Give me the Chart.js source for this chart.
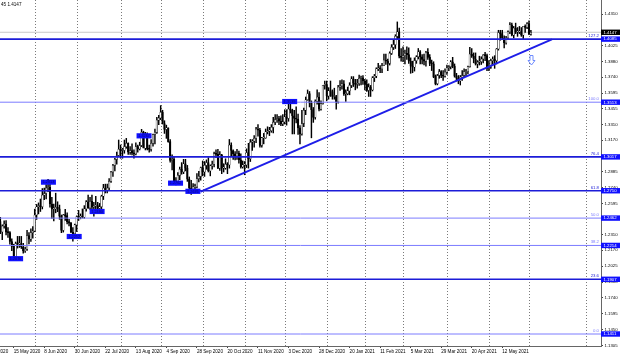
<!DOCTYPE html>
<html><head><meta charset="utf-8">
<script src="https://cdn.jsdelivr.net/npm/chart.js@4.4.1/dist/chart.umd.min.js"></script>
<style>html,body{margin:0;padding:0;background:#fff;overflow:hidden}canvas{display:block}</style>
</head><body><canvas id="c" width="620" height="357"></canvas>
<script>
// ---------------- DATA ----------------
const headerText = '45 1.4147';
const firstBar = -7; // bar index of the first candle (index 0 = 15 May 2020)

const barOpen = [
1.2430,1.2337,1.2390,1.2408,1.2335,1.2330,1.2250,1.2205, 1.2112,1.2230,1.2228,1.2230,1.2200, 1.2165,1.2180,1.2303,1.2270,1.2330,
1.2345,1.2490,1.2565,1.2575,1.2565, 1.2670,1.2685,1.2735,1.2740,1.2590, 1.2545,1.2545,1.2560,1.2545,1.2480, 1.2350,1.2490,1.2485,1.2430,1.2415, 1.2335,1.2320,
1.2400,1.2475,1.2470, 1.2480,1.2470,1.2545,1.2610,1.2555, 1.2615,1.2560,1.2570,1.2575,1.2550, 1.2565,1.2660,1.2735,1.2715,1.2735, 1.2795,1.2880,1.2940,1.2995,1.3030,
1.3085,1.3075,1.3075,1.3110,1.3140, 1.3060,1.3075,1.3050,1.3045,1.3110, 1.3090,1.3120,1.3240,1.3095,1.3220, 1.3090,1.3085,1.3140,1.3220,1.3240, 1.3350,
1.3370,1.3420,1.3320,1.3265, 1.3280,1.3155,1.2985,1.2995,1.2790, 1.2795,1.2850,1.2905,1.2880,1.2955, 1.2915,1.2815,1.2735,1.2725,1.2745, 1.2745,1.2820,1.2840,
1.2920,1.2880, 1.2940,1.2965,1.2890,1.2935,1.2950, 1.3045,1.3040,1.2915,1.3035,1.2915, 1.2915,1.2950,1.2945,1.3125,1.3075, 1.3045,1.3025,1.3050,1.2990,1.2925,
1.2945,1.2945,1.3055,1.3000,1.3150, 1.3160,1.3185,1.3270,1.3260,1.3120, 1.3190,1.3190,1.3245,1.3250,1.3255, 1.3285,1.3330,1.3355,1.3365,1.3340, 1.3315,
1.3335,1.3380,1.3365,1.3450, 1.3440,1.3390,1.3365,1.3360,1.3280, 1.3225,1.3320,1.3440,1.3535,1.3590, 1.3505,1.3445,1.3375,1.3520, 1.3560,1.3450,1.3500,1.3665,
1.3670,1.3570,1.3615,1.3610,1.3565, 1.3565,1.3515,1.3650,1.3660,1.3680, 1.3590,1.3590,1.3615,1.3665,1.3725, 1.3685,1.3675,1.3680,1.3730,1.3735,
1.3705,1.3675,1.3620,1.3650,1.3625, 1.3735,1.3750,1.3815,1.3820,1.3815, 1.3845,1.3895,1.3885,1.3865,1.3955, 1.4010,1.4035,1.4110,1.4150,1.3930,
1.3920,1.3935,1.3955,1.3945,1.3885, 1.3840,1.3830,1.3890,1.3925,1.3970, 1.3925,1.3900,1.3885,1.3965,1.3920, 1.3865,1.3860,1.3745,1.3680,1.3755, 1.3790,1.3755,1.3750,
1.3785,1.3825, 1.3835,1.3880,1.3840,1.3750,1.3730, 1.3705,1.3740,1.3755,1.3790,1.3790, 1.3835,1.3950,1.3930,1.3905,1.3860, 1.3875,1.3880,1.3905,1.3940,1.3935,
1.3820,1.3830,1.3890,1.3905,1.3890, 1.3995,1.4145,1.4135,1.4095,1.4050, 1.4095,1.4150,1.4215,1.4120,1.4185, 1.4150,1.4150,1.4150,1.4120,1.4200, 1.4190, 1.4225,1.4130
];
const barHigh = [
1.2470,1.2402,1.2438,1.2440,1.2375,1.2340,1.2275,1.2225, 1.2245,1.2296,1.2296,1.2296,1.2233, 1.2200,1.2350,1.2330,1.2365,1.2384,
1.2543,1.2586,1.2600,1.2635,1.2730, 1.2735,1.2765,1.2813,1.2768,1.2650, 1.2590,1.2688,1.2610,1.2580,1.2490, 1.2495,1.2542,1.2510,1.2450,1.2423, 1.2377,1.2408,
1.2482,1.2532,1.2500, 1.2545,1.2575,1.2620,1.2670,1.2650, 1.2670,1.2605,1.2660,1.2605,1.2595, 1.2670,1.2768,1.2770,1.2771,1.2820, 1.2885,1.2950,1.3005,1.3060,1.3170,
1.3125,1.3095,1.3170,1.3185,1.3145, 1.3110,1.3135,1.3080,1.3145,1.3125, 1.3150,1.3267,1.3250,1.3240,1.3235, 1.3125,1.3175,1.3225,1.3270,1.3375, 1.3395,
1.3482,1.3440,1.3345,1.3305, 1.3280,1.3175,1.3035,1.3015,1.2830, 1.2875,1.2925,1.2965,1.2995,1.2995, 1.2940,1.2835,1.2805,1.2775,1.2770, 1.2865,1.2885,1.2925,
1.2980,1.2975, 1.2990,1.3010,1.2945,1.2980,1.3060, 1.3080,1.3085,1.3065,1.3040,1.2955, 1.3000,1.2965,1.3175,1.3145,1.3080, 1.3065,1.3085,1.3070,1.3045,1.2980,
1.2975,1.3090,1.3140,1.3175,1.3175, 1.3210,1.3285,1.3310,1.3275,1.3195, 1.3230,1.3270,1.3290,1.3285,1.3310, 1.3375,1.3400,1.3400,1.3385,1.3390, 1.3400,
1.3445,1.3445,1.3500,1.3539, 1.3450,1.3440,1.3470,1.3405,1.3300, 1.3440,1.3460,1.3560,1.3624,1.3610, 1.3525,1.3465,1.3535,1.3625, 1.3600,1.3525,1.3665,1.3705,
1.3705,1.3645,1.3705,1.3625,1.3640, 1.3575,1.3665,1.3710,1.3715,1.3710, 1.3625,1.3650,1.3690,1.3745,1.3745, 1.3720,1.3720,1.3760,1.3750,1.3755,
1.3720,1.3715,1.3680,1.3665,1.3745, 1.3765,1.3825,1.3865,1.3845,1.3865, 1.3950,1.3950,1.3905,1.3970,1.4035, 1.4080,1.4125,1.4241,1.4185,1.4000,
1.4015,1.3985,1.4015,1.4005,1.3915, 1.3885,1.3915,1.3935,1.4000,1.3980, 1.3945,1.3950,1.3975,1.4000,1.3945, 1.3895,1.3880,1.3760,1.3765,1.3810, 1.3800,1.3800,1.3815,
1.3850,1.3845, 1.3890,1.3920,1.3860,1.3775,1.3755, 1.3755,1.3800,1.3815,1.3810,1.3840, 1.4010,1.4000,1.3960,1.3960,1.3890, 1.3930,1.3925,1.3945,1.3965,1.3950,
1.3890,1.3905,1.3925,1.3935,1.4000, 1.4165,1.4165,1.4165,1.4115,1.4110, 1.4160,1.4235,1.4230,1.4200,1.4230, 1.4190,1.4200,1.4190,1.4200,1.4215, 1.4235, 1.4250,1.4165
];
const barLow = [
1.2320,1.2266,1.2370,1.2310,1.2287,1.2225,1.2166,1.2094, 1.2076,1.2190,1.2196,1.2186,1.2145, 1.2150,1.2170,1.2227,1.2250,1.2280,
1.2338,1.2450,1.2500,1.2522,1.2545, 1.2630,1.2635,1.2702,1.2560,1.2460, 1.2437,1.2510,1.2520,1.2451,1.2330, 1.2335,1.2440,1.2410,1.2390,1.2329, 1.2252,1.2290,
1.2340,1.2440,1.2455, 1.2463,1.2460,1.2525,1.2550,1.2540, 1.2540,1.2480,1.2545,1.2520,1.2505, 1.2540,1.2630,1.2690,1.2690,1.2715, 1.2785,1.2840,1.2890,1.2950,1.3020,
1.3005,1.3005,1.3050,1.3095,1.3040, 1.3040,1.3035,1.3005,1.3035,1.3060, 1.3080,1.3110,1.3100,1.3080,1.3080, 1.3060,1.3070,1.3115,1.3135,1.3230, 1.3310,
1.3355,1.3315,1.3230,1.3185, 1.3150,1.2970,1.2900,1.2775,1.2762, 1.2785,1.2810,1.2860,1.2865,1.2890, 1.2795,1.2705,1.2676,1.2690,1.2690, 1.2735,1.2790,1.2805,
1.2845,1.2840, 1.2905,1.2880,1.2845,1.2905,1.2925, 1.3010,1.2910,1.2895,1.2865,1.2880, 1.2905,1.2865,1.2915,1.3025,1.2995, 1.2990,1.2995,1.2960,1.2915,1.2915,
1.2855,1.2920,1.2915,1.2975,1.3075, 1.3105,1.3145,1.3205,1.3105,1.3105, 1.3135,1.3185,1.3225,1.3210,1.3240, 1.3235,1.3310,1.3330,1.3310,1.3300, 1.3300,
1.3315,1.3305,1.3340,1.3415, 1.3225,1.3225,1.3325,1.3220,1.3135, 1.3215,1.3290,1.3400,1.3530,1.3470, 1.3190,1.3330,1.3360,1.3495, 1.3435,1.3440,1.3495,1.3630,
1.3525,1.3540,1.3565,1.3540,1.3540, 1.3450,1.3505,1.3620,1.3630,1.3575, 1.3520,1.3580,1.3580,1.3645,1.3655, 1.3625,1.3640,1.3665,1.3670,1.3675,
1.3625,1.3610,1.3565,1.3565,1.3615, 1.3700,1.3735,1.3800,1.3780,1.3780, 1.3845,1.3855,1.3800,1.3850,1.3945, 1.3990,1.4000,1.4080,1.3915,1.3885,
1.3880,1.3860,1.3900,1.3865,1.3775, 1.3780,1.3795,1.3865,1.3905,1.3860, 1.3860,1.3850,1.3840,1.3900,1.3845, 1.3800,1.3735,1.3670,1.3670,1.3730, 1.3735,1.3710,1.3740,
1.3765,1.3800, 1.3815,1.3825,1.3740,1.3705,1.3680, 1.3669,1.3710,1.3740,1.3750,1.3770, 1.3830,1.3920,1.3870,1.3850,1.3825, 1.3850,1.3855,1.3870,1.3890,1.3800,
1.3800,1.3820,1.3855,1.3820,1.3860, 1.3985,1.4075,1.4085,1.4005,1.4040, 1.4080,1.4135,1.4115,1.4095,1.4135, 1.4110,1.4135,1.4110,1.4080,1.4145, 1.4180, 1.4125,1.4120
];
const barClose = [
1.2337,1.2390,1.2408,1.2335,1.2330,1.2250,1.2205,1.2112, 1.2230,1.2228,1.2230,1.2200,1.2165, 1.2180,1.2303,1.2270,1.2330,1.2345,
1.2490,1.2565,1.2575,1.2565,1.2670, 1.2685,1.2735,1.2740,1.2590,1.2545, 1.2545,1.2560,1.2545,1.2480,1.2350, 1.2490,1.2485,1.2430,1.2415,1.2335, 1.2320,1.2400,
1.2475,1.2470,1.2480, 1.2470,1.2545,1.2610,1.2555,1.2615, 1.2560,1.2570,1.2575,1.2550,1.2565, 1.2660,1.2735,1.2715,1.2735,1.2795, 1.2880,1.2940,1.2995,1.3030,1.3085,
1.3075,1.3075,1.3110,1.3140,1.3060, 1.3075,1.3050,1.3045,1.3110,1.3090, 1.3120,1.3240,1.3095,1.3220,1.3090, 1.3085,1.3140,1.3220,1.3240,1.3350, 1.3370,
1.3420,1.3320,1.3265,1.3280, 1.3155,1.2985,1.2995,1.2790,1.2795, 1.2850,1.2905,1.2880,1.2955,1.2915, 1.2815,1.2735,1.2725,1.2745,1.2745, 1.2820,1.2840,1.2920,
1.2880,1.2940, 1.2965,1.2890,1.2935,1.2950,1.3045, 1.3040,1.2915,1.3035,1.2915,1.2915, 1.2950,1.2945,1.3125,1.3075,1.3045, 1.3025,1.3050,1.2990,1.2925,1.2945,
1.2945,1.3055,1.3000,1.3150,1.3160, 1.3185,1.3270,1.3260,1.3120,1.3190, 1.3190,1.3245,1.3250,1.3255,1.3285, 1.3330,1.3355,1.3365,1.3340,1.3315, 1.3335,
1.3380,1.3365,1.3450,1.3440, 1.3390,1.3365,1.3360,1.3280,1.3225, 1.3320,1.3440,1.3535,1.3590,1.3505, 1.3445,1.3375,1.3520,1.3560, 1.3450,1.3500,1.3665,1.3670,
1.3570,1.3615,1.3610,1.3565,1.3565, 1.3515,1.3650,1.3660,1.3680,1.3590, 1.3590,1.3615,1.3665,1.3725,1.3685, 1.3675,1.3680,1.3730,1.3735,1.3705,
1.3675,1.3620,1.3650,1.3625,1.3735, 1.3750,1.3815,1.3820,1.3815,1.3845, 1.3895,1.3885,1.3865,1.3955,1.4010, 1.4035,1.4110,1.4150,1.3930,1.3920,
1.3935,1.3955,1.3945,1.3885,1.3840, 1.3830,1.3890,1.3925,1.3970,1.3925, 1.3900,1.3885,1.3965,1.3920,1.3865, 1.3860,1.3745,1.3680,1.3755,1.3790, 1.3755,1.3750,1.3785,
1.3825,1.3835, 1.3880,1.3840,1.3750,1.3730,1.3705, 1.3740,1.3755,1.3790,1.3790,1.3835, 1.3950,1.3930,1.3905,1.3860,1.3875, 1.3880,1.3905,1.3940,1.3935,1.3820,
1.3830,1.3890,1.3905,1.3890,1.3995, 1.4145,1.4135,1.4095,1.4050,1.4095, 1.4150,1.4215,1.4120,1.4185,1.4150, 1.4150,1.4150,1.4120,1.4200,1.4190, 1.4225, 1.4130,1.4147
];

// date tick labels (one every 16 bars); the first one lies left of the visible area
const dateTickIdx = [-16,0,16,32,48,64,80,96,112,128,144,160,176,192,208,224,240,256];
const dateLabels = ['23 Apr 2020','15 May 2020','8 Jun 2020','30 Jun 2020','22 Jul 2020','13 Aug 2020','4 Sep 2020','28 Sep 2020','20 Oct 2020','11 Nov 2020','3 Dec 2020','28 Dec 2020','20 Jan 2021','11 Feb 2021','5 Mar 2021','29 Mar 2021','20 Apr 2021','12 May 2021'];
const monthGridIdx = [11,33,56,77,99,121,142,164,184,204,227,249,270,300];
const priceTicks = [1.4310,1.4025,1.3880,1.3740,1.3595,1.3455,1.3310,1.3170,1.2885,1.2740,1.2595,1.2310,1.2170,1.2025,1.1880,1.1740,1.1595,1.1450,1.1305];

const fibNames  = ['127.2','100.0','76.4','61.8','50.0','38.2','23.6','0.0'];
const fibPrices = [1.4085,1.3513,1.3017,1.2710,1.2462,1.2214,1.1907,1.1411];
const currentPrice = 1.4147;

const trendIdx = [98, 282];
const trendPrice = [1.2702, 1.4083];

const markIdx   = [1.0, 18.2, 31.7, 43.7, 68.3, 84.8, 93.9, 144.6];
const markPrice = [1.2094, 1.2788, 1.2295, 1.2522, 1.3208, 1.2779, 1.2705, 1.3519];
const markText  = ['1.2076','1.2813','1.2252','1.2480','1.3267','1.2762','1.2676','1.3539'];

const arrowIdx = 271, arrowPrice = 1.3896;

// ---------------- STYLE / LAYOUT ----------------
const X_MIN = -7.18, X_MAX = 307.73;
const Y_MIN = 1.13022, Y_MAX = 1.44397;
const FONT = 'Liberation Sans';
const strongFib = new Set(['127.2','76.4','61.8','23.6']);
const DARK_BLUE = '#1c1cd8', LIGHT_BLUE = '#7c7cff', BOX_BLUE = '#1010ff';

Chart.defaults.font.family = FONT;

const n = Math.min(barOpen.length, barHigh.length, barLow.length, barClose.length);
const wickData = [], bodyData = [], bodyFill = [];
for (let k = 0; k < n; k++) {
  const x = firstBar + k;
  wickData.push({x, y: [barLow[k], barHigh[k]]});
  bodyData.push({x, y: [Math.min(barOpen[k], barClose[k]), Math.max(barOpen[k], barClose[k])]});
  bodyFill.push(barClose[k] >= barOpen[k] ? '#ffffff' : '#000000');
}

// ticks inside the visible range go to the axis; the clipped first label is drawn by the plugin
const visTickIdx = [], visTickLbl = [], hiddenTicks = [];
dateTickIdx.forEach((v, k) => {
  if (v >= X_MIN) { visTickIdx.push(v); visTickLbl.push(dateLabels[k]); }
  else hiddenTicks.push([v, dateLabels[k]]);
});

const datasets = [];
fibNames.forEach((nm, k) => {
  datasets.push({type:'line', data:[{x:X_MIN,y:fibPrices[k]},{x:X_MAX,y:fibPrices[k]}],
    borderColor: strongFib.has(nm) ? DARK_BLUE : LIGHT_BLUE, borderWidth: strongFib.has(nm) ? 1.6 : 1,
    pointRadius:0, order:0});
});
datasets.push({type:'line', data:[{x:X_MIN,y:currentPrice},{x:X_MAX,y:currentPrice}],
  borderColor:'#c8c8c8', borderWidth:1, pointRadius:0, order:4});
datasets.push({type:'line', data:[{x:trendIdx[0],y:trendPrice[0]},{x:trendIdx[1],y:trendPrice[1]}],
  borderColor:'#1e1ee8', borderWidth:2, pointRadius:0, order:0});
datasets.push({type:'bar', data: bodyData, backgroundColor: bodyFill, borderColor:'#000', borderWidth:0.5,
  borderSkipped:false, barThickness:1.6, grouped:false, minBarLength:1, order:1});
datasets.push({type:'bar', data: wickData, backgroundColor:'#000', borderWidth:0,
  barThickness:0.8, grouped:false, order:2});

const gridPlugin = {
  id:'monthGrid',
  beforeDatasetsDraw(chart) {
    const ctx = chart.ctx, xs = chart.scales.x, ca = chart.chartArea;
    ctx.save();
    ctx.strokeStyle = '#7a7a7a'; ctx.lineWidth = 1; ctx.setLineDash([1, 2]);
    monthGridIdx.forEach(v => {
      const x = Math.round(xs.getPixelForValue(v)) + 0.5;
      ctx.beginPath(); ctx.moveTo(x, ca.top); ctx.lineTo(x, ca.bottom); ctx.stroke();
    });
    ctx.restore();
  }
};

const annot = {
  id:'annot',
  afterDraw(chart) {
    const ctx = chart.ctx, xs = chart.scales.x, ys = chart.scales.y, ca = chart.chartArea;
    ctx.save();
    // clipped first date label
    ctx.fillStyle = '#000'; ctx.font = '4.6px ' + FONT; ctx.textAlign = 'left'; ctx.textBaseline = 'middle';
    hiddenTicks.forEach(([v, t]) => ctx.fillText(t, xs.getPixelForValue(v), ca.bottom + 5.5));
    // fib level names
    ctx.font = '4.3px ' + FONT; ctx.textAlign = 'right'; ctx.textBaseline = 'bottom';
    fibNames.forEach((nm, k) => {
      const y = ys.getPixelForValue(fibPrices[k]);
      ctx.fillStyle = strongFib.has(nm) ? DARK_BLUE : LIGHT_BLUE;
      ctx.fillText(nm, ca.right - 2, y - 1);
    });
    // swing markers
    ctx.textAlign = 'center'; ctx.textBaseline = 'middle'; ctx.font = '3.8px ' + FONT;
    markIdx.forEach((mi, k) => {
      const x = xs.getPixelForValue(mi), y = ys.getPixelForValue(markPrice[k]);
      ctx.fillStyle = BOX_BLUE; ctx.fillRect(x - 7.5, y - 2.6, 15, 5.2);
      ctx.fillStyle = '#0a0a70'; ctx.fillText(markText[k], x, y + 0.2);
    });
    // hollow down arrow
    {
      const ax = Math.round(xs.getPixelForValue(arrowIdx)) + 0.5, ay = Math.round(ys.getPixelForValue(arrowPrice)) + 0.5;
      ctx.strokeStyle = '#6f8cff'; ctx.lineWidth = 1; ctx.fillStyle = '#ffffff';
      ctx.beginPath();
      ctx.moveTo(ax - 1.5, ay - 5); ctx.lineTo(ax + 1.5, ay - 5); ctx.lineTo(ax + 1.5, ay);
      ctx.lineTo(ax + 3.5, ay); ctx.lineTo(ax, ay + 4.5); ctx.lineTo(ax - 3.5, ay);
      ctx.lineTo(ax - 1.5, ay); ctx.closePath();
      ctx.fill(); ctx.stroke();
    }
    // axis price boxes
    ctx.textAlign = 'left'; ctx.textBaseline = 'middle'; ctx.font = '4.3px ' + FONT;
    fibPrices.forEach(p => {
      const y = ys.getPixelForValue(p);
      ctx.fillStyle = BOX_BLUE; ctx.fillRect(ca.right, y - 2.7, 19, 5.4);
      ctx.fillStyle = '#fff'; ctx.fillText(p.toFixed(4), ca.right + 2.5, y + 0.2);
    });
    const yc = ys.getPixelForValue(currentPrice);
    ctx.fillStyle = '#000'; ctx.fillRect(ca.right, yc - 2.7, 19, 5.4);
    ctx.fillStyle = '#fff'; ctx.fillText(currentPrice.toFixed(4), ca.right + 2.5, yc + 0.2);
    // header
    ctx.fillStyle = '#000'; ctx.font = '4.6px ' + FONT; ctx.textBaseline = 'top';
    ctx.fillText(headerText, 1, 2.5);
    ctx.restore();
  }
};

new Chart(document.getElementById('c'), {
  type:'bar',
  data:{datasets},
  options:{
    responsive:false, animation:false, devicePixelRatio:1,
    layout:{padding:0, autoPadding:false},
    plugins:{legend:{display:false}, tooltip:{enabled:false}},
    scales:{
      x:{type:'linear', position:'bottom', min:X_MIN, max:X_MAX, offset:false,
        afterBuildTicks:s=>{ s.ticks = visTickIdx.map(v=>({value:v})); },
        ticks:{autoSkip:false, maxRotation:0, minRotation:0, align:'start', padding:1, color:'#000',
          font:{size:4.6, family:FONT}, callback:(v,i)=>visTickLbl[i]},
        grid:{drawOnChartArea:false, offset:false, tickLength:2, color:'#444'},
        border:{display:true, color:'#666'},
        afterFit:s=>{ s.height = 11; s.paddingLeft = 0; s.paddingRight = 0; }
      },
      y:{type:'linear', position:'right', min:Y_MIN, max:Y_MAX,
        afterBuildTicks:s=>{ s.ticks = priceTicks.map(v=>({value:v})); },
        ticks:{autoSkip:false, padding:1.5, color:'#000', font:{size:4.3, family:FONT},
          callback:v=>Number(v).toFixed(4)},
        grid:{drawOnChartArea:false, tickLength:2, color:'#444'},
        border:{display:true, color:'#666'},
        afterFit:s=>{ s.width = 19; s.paddingTop = 0; s.paddingBottom = 0; }
      }
    }
  },
  plugins:[gridPlugin, annot]
});
</script>
</body></html>
